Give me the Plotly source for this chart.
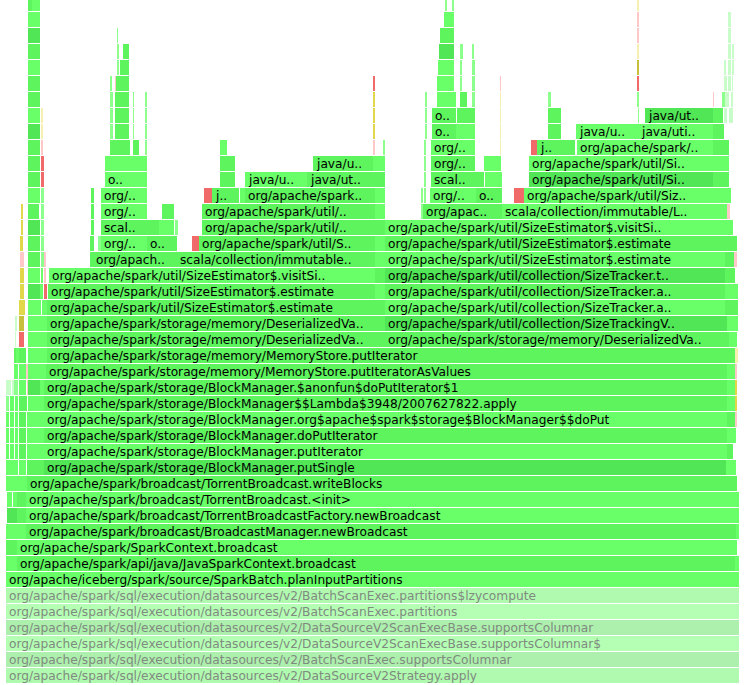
import plotly.graph_objects as go

# frames wide enough to carry a name, one line per stack depth
name_depth = [
    0, 1, 2, 3, 4, 5,
    6, 7, 8, 9, 10, 11, 12,
    13, 14, 15, 16, 17, 18, 19, 20,
    21, 21, 22, 22, 23, 23, 24, 24, 25, 25,
    26, 26, 26,
    27, 27, 27, 27,
    28, 28, 28,
    29, 29, 29, 29,
    30, 30, 30, 30, 30, 30,
    31, 31, 31, 31, 31,
    32, 32, 32,
    33, 33, 33,
    34, 34, 34,
    35, 35,
]
name_start = [
    6, 6, 6, 6, 6, 6,
    6, 17, 17, 26, 26, 26, 27,
    44, 44, 44, 44, 44, 44, 46, 47,
    47, 385, 47, 385, 47, 385, 48, 385, 49, 385,
    93, 177, 385,
    101, 147, 199, 385,
    101, 202, 385,
    101, 202, 423, 502,
    101, 212, 245, 430, 476, 524,
    105, 245, 307, 431, 529,
    313, 431, 529,
    431, 537, 577,
    432, 576, 638,
    432, 645,
]
name_samples = [
    733, 733, 733, 733, 733, 733,
    733, 718, 720, 710, 713, 713, 710,
    682, 683, 683, 683, 683, 683, 681, 680,
    338, 344, 338, 342, 328, 340, 327, 340, 326, 340,
    84, 198, 340,
    46, 30, 176, 340,
    45, 173, 328,
    46, 173, 79, 211,
    46, 24, 130, 46, 26, 189,
    42, 62, 68, 43, 184,
    60, 44, 184,
    44, 38, 136,
    24, 62, 75,
    24, 68,
]
name_shade = [
    "lm", "ld", "lb", "ld", "lb", "lm",
    "b", "m", "b", "m", "b", "b", "m",
    "d", "b", "m", "b", "m", "m", "m", "m",
    "m", "m", "m", "d", "m", "b", "m", "m", "b", "d",
    "m", "m", "b",
    "b", "m", "m", "m",
    "m", "m", "b",
    "b", "m", "m", "b",
    "b", "m", "m", "b", "m", "b",
    "b", "b", "m", "m", "d",
    "m", "m", "b",
    "b", "m", "b",
    "m", "b", "b",
    "m", "d",
]
name_text = [
    "org/apache/spark/sql/execution/datasources/v2/DataSourceV2Strategy.apply",
    "org/apache/spark/sql/execution/datasources/v2/BatchScanExec.supportsColumnar",
    "org/apache/spark/sql/execution/datasources/v2/DataSourceV2ScanExecBase.supportsColumnar$",
    "org/apache/spark/sql/execution/datasources/v2/DataSourceV2ScanExecBase.supportsColumnar",
    "org/apache/spark/sql/execution/datasources/v2/BatchScanExec.partitions",
    "org/apache/spark/sql/execution/datasources/v2/BatchScanExec.partitions$lzycompute",
    "org/apache/iceberg/spark/source/SparkBatch.planInputPartitions",
    "org/apache/spark/api/java/JavaSparkContext.broadcast",
    "org/apache/spark/SparkContext.broadcast",
    "org/apache/spark/broadcast/BroadcastManager.newBroadcast",
    "org/apache/spark/broadcast/TorrentBroadcastFactory.newBroadcast",
    "org/apache/spark/broadcast/TorrentBroadcast.<init>",
    "org/apache/spark/broadcast/TorrentBroadcast.writeBlocks",
    "org/apache/spark/storage/BlockManager.putSingle",
    "org/apache/spark/storage/BlockManager.putIterator",
    "org/apache/spark/storage/BlockManager.doPutIterator",
    "org/apache/spark/storage/BlockManager.org$apache$spark$storage$BlockManager$$doPut",
    "org/apache/spark/storage/BlockManager$$Lambda$3948/2007627822.apply",
    "org/apache/spark/storage/BlockManager.$anonfun$doPutIterator$1",
    "org/apache/spark/storage/memory/MemoryStore.putIteratorAsValues",
    "org/apache/spark/storage/memory/MemoryStore.putIterator",
    "org/apache/spark/storage/memory/DeserializedVa..",
    "org/apache/spark/storage/memory/DeserializedVa..",
    "org/apache/spark/storage/memory/DeserializedVa..",
    "org/apache/spark/util/collection/SizeTrackingV..",
    "org/apache/spark/util/SizeEstimator$.estimate",
    "org/apache/spark/util/collection/SizeTracker.a..",
    "org/apache/spark/util/SizeEstimator$.estimate",
    "org/apache/spark/util/collection/SizeTracker.a..",
    "org/apache/spark/util/SizeEstimator$.visitSi..",
    "org/apache/spark/util/collection/SizeTracker.t..",
    "org/apach..", "scala/collection/immutable..",
    "org/apache/spark/util/SizeEstimator$.estimate",
    "org/..", "o..", "org/apache/spark/util/S..",
    "org/apache/spark/util/SizeEstimator$.estimate",
    "scal..", "org/apache/spark/util/..",
    "org/apache/spark/util/SizeEstimator$.visitSi..",
    "org/..", "org/apache/spark/util/..", "org/apac..",
    "scala/collection/immutable/L..",
    "org/..", "j..", "org/apache/spark..", "org/..", "o..",
    "org/apache/spark/util/Siz..",
    "o..", "java/u..", "java/ut..", "scal..",
    "org/apache/spark/util/Si..",
    "java/u..", "org/..", "org/apache/spark/util/Si..",
    "org/..", "j..", "org/apache/spark/..",
    "o..", "java/u..", "java/uti..",
    "o..", "java/ut..",
]

# unnamed narrow frames, one line per stack depth
sliver_depth = [
    7, 7,
    8,
    9, 9,
    10, 10,
    11, 11, 11,
    12, 12, 12,
    13, 13, 13, 13, 13, 13,
    14, 14, 14, 14, 14, 14,
    15, 15, 15, 15, 15, 15,
    16, 16, 16, 16, 16, 16, 16,
    17, 17, 17, 17, 17, 17, 17,
    18, 18, 18, 18, 18, 18, 18, 18, 18,
    19, 19, 19, 19, 19, 19,
    20, 20, 20, 20, 20, 20,
    21, 21, 21, 21,
    22, 22, 22, 22,
    23, 23, 23, 23, 23,
    24, 24, 24, 24, 24, 24,
    25, 25, 25, 25, 25, 25,
    26, 26, 26, 26, 26, 26, 26, 26,
    27, 27, 27, 27, 27, 27, 27, 27,
    28, 28, 28, 28, 28, 28, 28, 28, 28,
    29, 29, 29, 29, 29, 29, 29, 29, 29, 29,
    30, 30, 30, 30, 30, 30, 30, 30, 30, 30, 30,
    31, 31, 31, 31, 31, 31, 31, 31,
    32, 32, 32, 32, 32, 32, 32, 32,
    33, 33, 33, 33, 33, 33, 33, 33, 33, 33, 33, 33,
    34, 34, 34, 34, 34, 34, 34, 34, 34, 34, 34, 34,
    35, 35, 35, 35, 35, 35, 35, 35, 35, 35, 35, 35, 35, 35, 35,
    36, 36, 36, 36, 36, 36, 36, 36, 36, 36, 36, 36, 36, 36, 36, 36, 36,
    37, 37, 37, 37, 37, 37, 37, 37, 37, 37, 37, 37, 37,
    38, 38, 38, 38, 38, 38, 38, 38, 38, 38,
    39, 39, 39, 39, 39, 39, 39, 39, 39,
    40, 40, 40, 40, 40,
    41, 41, 41, 41,
    42, 42, 42, 42, 42,
]
sliver_start = [
    6, 735,
    6,
    6, 736,
    7, 17,
    7, 13, 17,
    6, 13, 18,
    6, 8, 13, 19, 27, 726,
    6, 10, 15, 19, 27, 727,
    6, 10, 15, 19, 27, 727,
    6, 10, 15, 19, 27, 727, 735,
    6, 10, 15, 19, 28, 727, 735,
    6, 12, 14, 19, 27, 28, 40, 727, 735,
    14, 19, 26, 28, 727, 735,
    14, 16, 19, 28, 727, 735,
    15, 19, 28, 729,
    15, 19, 28, 727,
    19, 28, 42, 375, 725,
    20, 28, 40, 44, 375, 725,
    20, 28, 41, 44, 375, 725,
    20, 28, 41, 44, 90, 375, 725, 734,
    20, 28, 41, 90, 98, 192, 375, 725,
    21, 28, 41, 91, 146, 159, 175, 375, 713,
    21, 28, 41, 91, 162, 375, 421, 713, 725, 727,
    28, 41, 91, 204, 236, 240, 375, 421, 424, 514, 713,
    28, 41, 220, 375, 424, 474, 485, 713,
    28, 41, 105, 220, 373, 424, 484, 713,
    28, 41, 110, 133, 145, 220, 373, 383, 424, 500, 531, 713,
    28, 41, 110, 115, 133, 145, 373, 425, 456, 500, 548, 713,
    28, 41, 110, 115, 133, 145, 373, 425, 457, 500, 548, 638, 713, 724, 729,
    28, 110, 115, 133, 145, 373, 425, 437, 460, 472, 500, 548, 637, 713, 722, 725, 731,
    28, 110, 115, 116, 373, 437, 460, 472, 500, 637, 724, 728, 732,
    28, 117, 120, 438, 460, 472, 637, 724, 728, 732,
    28, 117, 123, 439, 460, 472, 637, 728, 732,
    28, 117, 440, 637, 728,
    28, 444, 637, 728,
    28, 32, 445, 452, 637,
]
sliver_samples = [
    11, 4,
    11,
    20, 3,
    10, 9,
    5, 4, 9,
    7, 5, 9,
    2, 5, 5, 7, 17, 10,
    3, 4, 3, 7, 17, 6,
    3, 4, 3, 7, 17, 9,
    3, 4, 3, 7, 17, 8, 2,
    3, 4, 3, 8, 16, 8, 2,
    5, 2, 4, 7, 1, 12, 4, 8, 2,
    4, 7, 2, 18, 8, 2,
    2, 3, 7, 19, 8, 3,
    1, 5, 19, 8,
    2, 5, 19, 11,
    6, 13, 5, 10, 13,
    4, 12, 3, 3, 10, 13,
    4, 12, 2, 2, 10, 10,
    4, 12, 3, 2, 3, 10, 9, 3,
    3, 12, 3, 4, 3, 7, 10, 12,
    2, 12, 3, 3, 13, 15, 3, 10, 20,
    2, 11, 3, 3, 12, 10, 2, 12, 2, 3,
    12, 3, 3, 8, 3, 5, 10, 2, 2, 10, 18,
    12, 3, 15, 10, 2, 10, 17, 16,
    12, 3, 42, 15, 12, 2, 17, 16,
    12, 2, 20, 6, 2, 7, 2, 2, 2, 1, 6, 16,
    12, 2, 3, 14, 1, 2, 2, 2, 19, 1, 13, 11,
    12, 2, 3, 14, 1, 2, 2, 2, 18, 1, 13, 1, 10, 3, 4,
    12, 3, 14, 1, 2, 2, 2, 19, 7, 3, 1, 3, 2, 1, 3, 4, 2,
    12, 2, 1, 13, 2, 17, 2, 3, 1, 2, 3, 3, 1,
    12, 2, 9, 16, 2, 3, 2, 2, 3, 2,
    12, 2, 6, 15, 3, 2, 2, 3, 2,
    12, 1, 14, 2, 3,
    12, 10, 2, 3,
    4, 8, 2, 2, 2,
]
sliver_shade = [
    "b", "b",
    "m",
    "b", "b",
    "d", "m",
    "b", "b", "m",
    "b", "b", "b",
    "b", "b", "b", "b", "m", "b",
    "b", "b", "b", "m", "b", "m",
    "b", "b", "b", "m", "b", "b",
    "b", "b", "b", "m", "b", "m", "pr",
    "lg", "b", "b", "m", "b", "b", "y",
    "pg", "pg", "lg", "b", "pr", "d", "b", "b", "y",
    "b", "b", "pr", "b", "b", "pr",
    "m", "b", "m", "b", "m", "py",
    "pg", "r", "b", "b",
    "pg", "o", "b", "b",
    "y", "b", "b", "m", "m",
    "y", "d", "b", "r", "b", "b",
    "y", "b", "b", "pr", "m", "m",
    "pr", "m", "lg", "pr", "m", "b", "m", "pr",
    "y", "m", "lg", "m", "lg", "r", "b", "m",
    "y", "d", "lg", "m", "m", "b", "lg", "m", "b",
    "y", "m", "lg", "m", "m", "b", "lg", "b", "b", "pr",
    "b", "lg", "m", "r", "m", "b", "b", "lg", "lg", "r", "b",
    "m", "r", "m", "m", "lg", "m", "b", "m",
    "m", "r", "b", "m", "b", "lg", "b", "b",
    "m", "pr", "m", "m", "lg", "b", "pr", "lg", "lg", "py", "r", "m",
    "d", "py", "lg", "m", "lg", "lg", "y", "lg", "b", "py", "m", "m",
    "b", "py", "lg", "m", "lg", "lg", "y", "lg", "m", "py", "m", "lg", "m", "pg", "pg",
    "m", "lg", "m", "lg", "lg", "y", "lg", "b", "m", "lg", "py", "lg", "lg", "pr", "lg", "pg", "pg",
    "m", "lg", "pr", "m", "r", "b", "lg", "lg", "pr", "r", "pg", "pg", "pg",
    "b", "lg", "m", "b", "lg", "lg", "o", "pg", "pg", "pg",
    "m", "lg", "m", "d", "lg", "lg", "py", "pg", "pg",
    "d", "lg", "m", "pr", "pg",
    "b", "b", "pr", "pg",
    "m", "b", "lg", "lg", "py",
]

palette = {
    "b": "#68ff68", "m": "#5ef45e", "d": "#50e655",
    "lb": "#b5ffb5", "lm": "#b0fab0", "ld": "#adf0ad",
    "lg": "#8cff8c", "pg": "#c8fcc8",
    "y": "#e0d84a", "py": "#f5f0b0", "o": "#c8c03c",
    "r": "#f06a6a", "pr": "#ffc8c8",
}

fig = go.Figure()

fig.add_trace(go.Bar(
    orientation="h",
    y=sliver_depth,
    x=sliver_samples,
    base=sliver_start,
    width=15 / 16,
    marker=dict(color=[palette[s] for s in sliver_shade], line=dict(width=0)),
    hoverinfo="skip",
))

fig.add_trace(go.Bar(
    orientation="h",
    y=name_depth,
    x=name_samples,
    base=name_start,
    width=15 / 16,
    marker=dict(color=[palette[s] for s in name_shade], line=dict(width=0)),
    text=name_text,
    textposition="inside",
    insidetextanchor="start",
    textangle=0,
    constraintext="none",
    textfont=dict(
        family="DejaVu Sans",
        size=12.2,
        color=["#808a80" if s.startswith("l") else "#000000" for s in name_shade],
    ),
    hoverinfo="text",
))

fig.update_layout(
    width=749,
    height=685,
    margin=dict(l=0, r=0, t=0, b=0),
    paper_bgcolor="white",
    plot_bgcolor="white",
    barmode="overlay",
    showlegend=False,
    xaxis=dict(range=[0, 749], visible=False),
    yaxis=dict(range=[-0.59375, 42.21875], visible=False),
)

fig.write_html(
    "out.html",
    config={"displayModeBar": False},
    post_script="document.body.style.margin='0';document.body.style.overflow='hidden';",
)
